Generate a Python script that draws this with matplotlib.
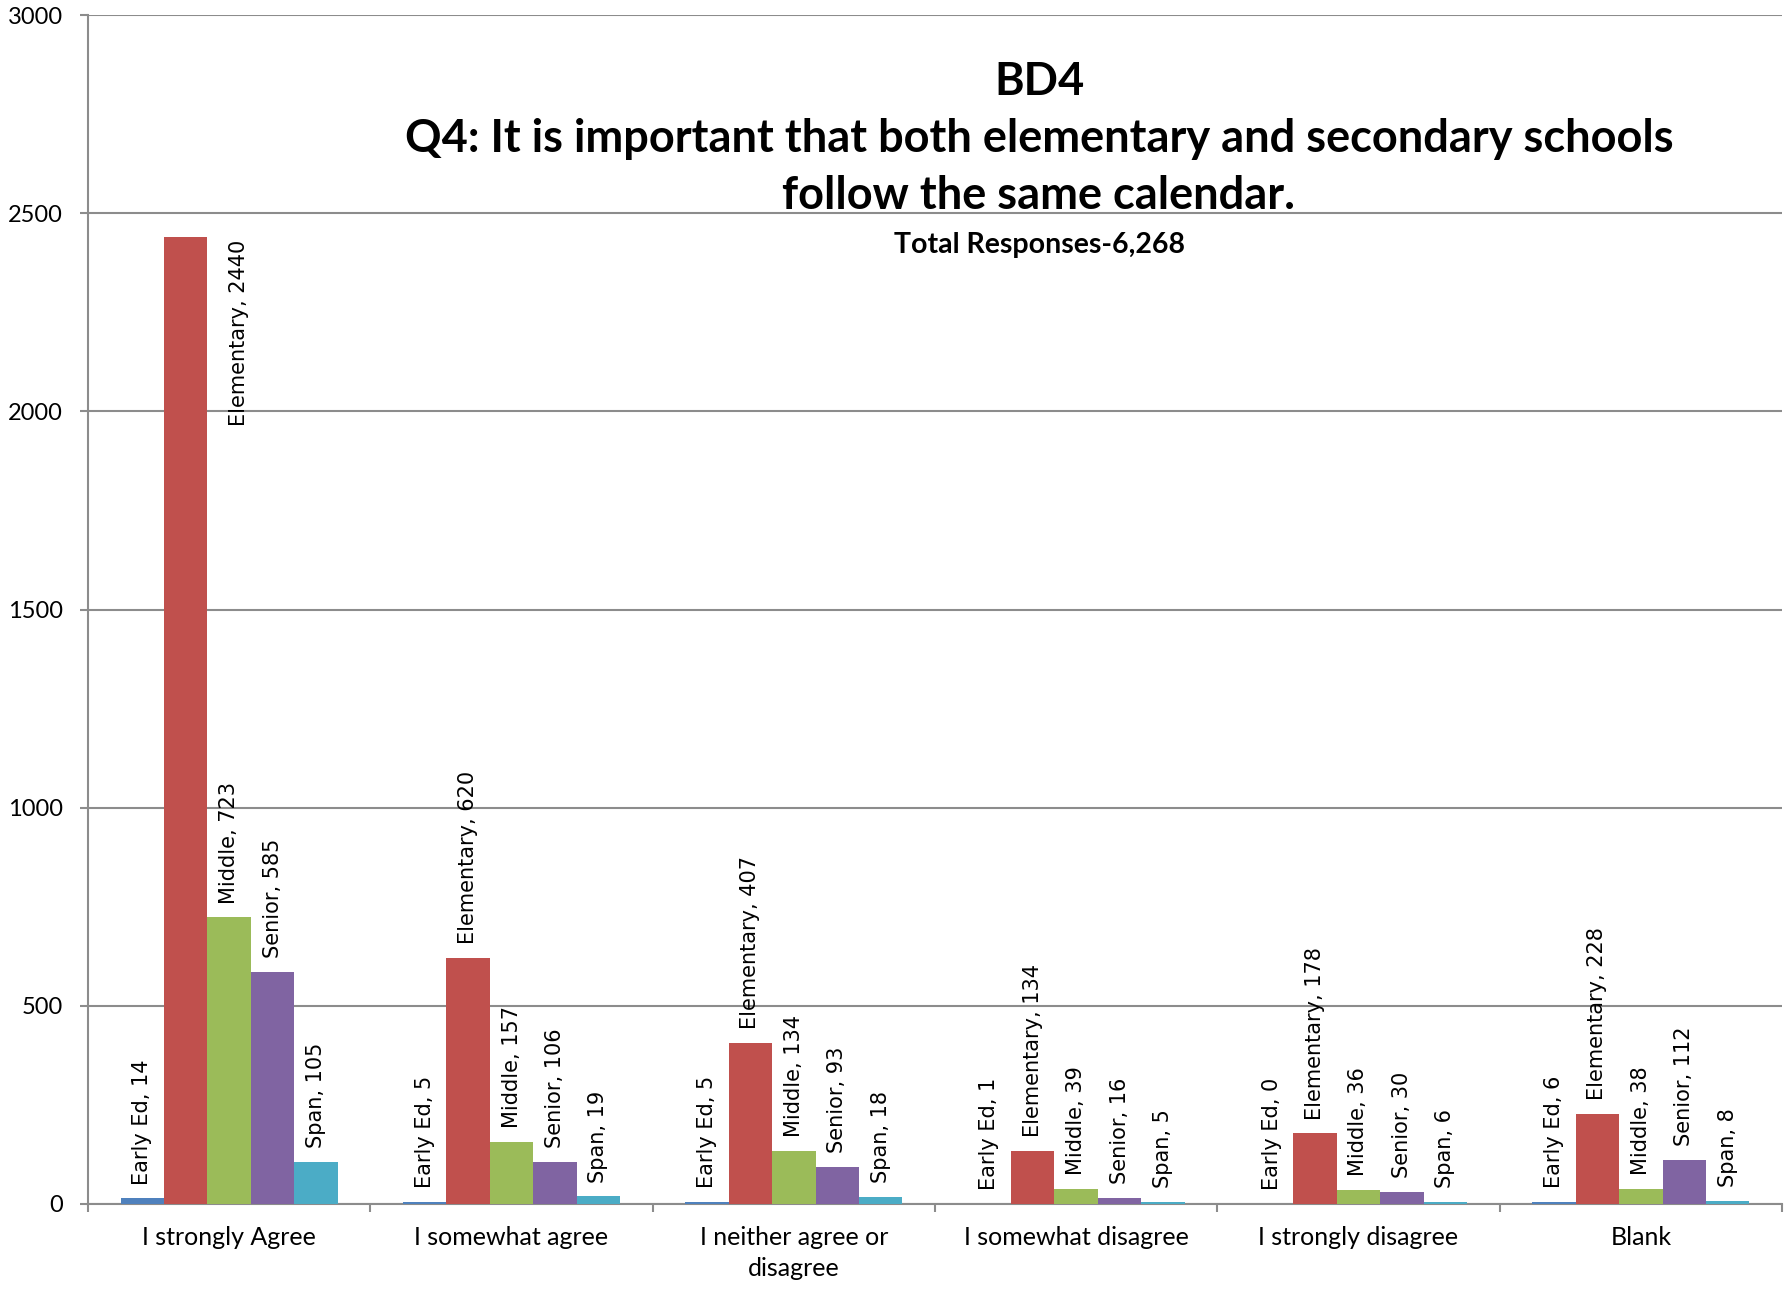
import numpy as np
import matplotlib
matplotlib.use('Agg')
import matplotlib.pyplot as plt

# data
categories = ['I strongly Agree', 'I somewhat agree', 'I neither agree or\ndisagree',
              'I somewhat disagree', 'I strongly disagree', 'Blank']
series_names = ['Early Ed', 'Elementary', 'Middle', 'Senior', 'Span']
early_ed = [14, 5, 5, 1, 0, 6]
elementary = [2440, 620, 407, 134, 178, 228]
middle = [723, 157, 134, 39, 36, 38]
senior = [585, 106, 93, 16, 30, 112]
span = [105, 19, 18, 5, 6, 8]
yticks = [0, 500, 1000, 1500, 2000, 2500, 3000]

colors = ['#4F81BD', '#C0504D', '#9BBB59', '#8064A2', '#4BACC6']
grid_col = '#8C8C8C'

fig = plt.figure(figsize=(17.84, 13.02), dpi=100)
ax = fig.add_axes([88 / 1784, 98 / 1302, (1782 - 88) / 1784, (1204 - 15) / 1302])

x = np.arange(len(categories))
bw = 1 / 6.5
allvals = [early_ed, elementary, middle, senior, span]
for i, (name, vals) in enumerate(zip(series_names, allvals)):
    xs = x + (i - 2) * bw
    ax.bar(xs, vals, width=bw, color=colors[i], zorder=3)
    for j, (xx, v) in enumerate(zip(xs, vals)):
        lbl = '%s, %d' % (name, v)
        if name == 'Elementary' and j == 0:
            # this label was moved beside the bar in the original
            ax.annotate(lbl, (xx, v), xytext=(38, -2), textcoords='offset points',
                        rotation=90, ha='center', va='top', fontsize=15,
                        family='DejaVu Sans', zorder=4)
        else:
            ax.annotate(lbl, (xx, v), xytext=(0, 10), textcoords='offset points',
                        rotation=90, ha='center', va='bottom', fontsize=15,
                        family='DejaVu Sans', zorder=4)

ax.set_xlim(-0.5, len(categories) - 0.5)
ax.set_ylim(0, 3000)
ax.set_yticks(yticks)
ax.set_yticklabels([str(t) for t in yticks], fontsize=17, family='Lato')
ax.yaxis.grid(True, color=grid_col, linewidth=1.5, zorder=0)
ax.tick_params(axis='y', length=6, width=1.5, color=grid_col, pad=12)

ax.set_xticks(x)
ax.set_xticklabels(categories, fontsize=18, family='Lato', linespacing=1.4)
ax.set_xticks(np.arange(len(categories) + 1) - 0.5, minor=True)
ax.tick_params(axis='x', which='major', length=0, pad=16)
ax.tick_params(axis='x', which='minor', length=6, width=1.5, color=grid_col)

for s in ['top', 'right']:
    ax.spines[s].set_visible(False)
for s in ['left', 'bottom']:
    ax.spines[s].set_color(grid_col)
    ax.spines[s].set_linewidth(1.5)

# title block
tx = 1039 / 1784
fig.text(tx, 1 - 95 / 1302, 'BD4', ha='center', va='baseline',
         fontsize=32.5, fontweight='bold', family='Lato')
fig.text(tx, 1 - 152 / 1302, 'Q4: It is important that both elementary and secondary schools',
         ha='center', va='baseline', fontsize=32.5, fontweight='bold', family='Lato')
fig.text(tx, 1 - 209 / 1302, 'follow the same calendar.', ha='center', va='baseline',
         fontsize=32.5, fontweight='bold', family='Lato')
fig.text(tx, 1 - 253 / 1302, 'Total Responses-6,268', ha='center', va='baseline',
         fontsize=20.5, fontweight='bold', family='Lato')

fig.savefig('out.png', dpi=100)
